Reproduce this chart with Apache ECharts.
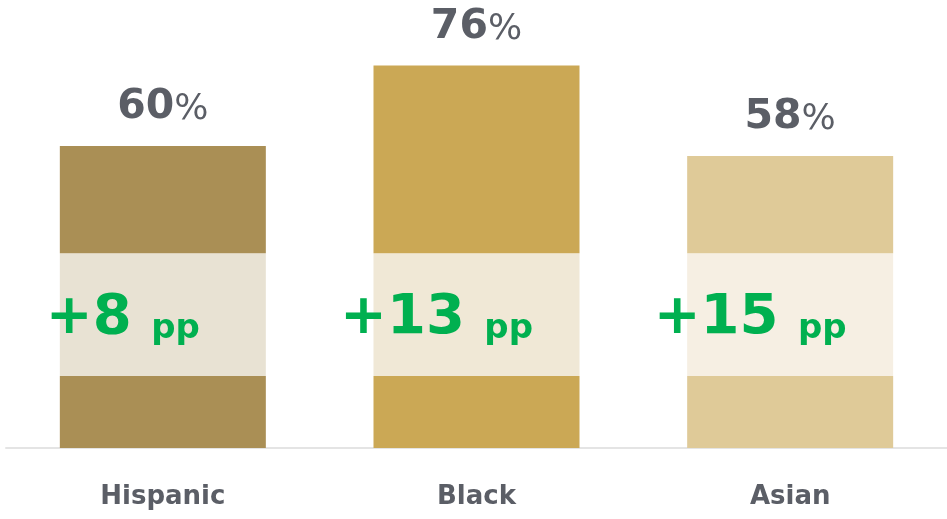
<!DOCTYPE html>
<html>
<head>
<meta charset="utf-8">
<title>Share by group</title>
<script src="https://cdn.jsdelivr.net/npm/echarts@6/dist/echarts.min.js"></script>
<style>
  html, body { margin: 0; padding: 0; background: #ffffff; }
  #chart { width: 947px; height: 519px; }
</style>
</head>
<body>
<div id="chart"></div>
<script>
// Groups and their headline shares (%)
const categories = ['Hispanic', 'Black', 'Asian'];
const shares = [60, 76, 58];
// Percentage-point gains shown inside each bar
const gains = [8, 13, 15];
// Highlighted band drawn across each bar (value range, %)
const bandFrom = [14.3, 14.3, 14.3];
const bandTo = [38.7, 38.7, 38.7];

// Palette
const barColors = ['#AA8F55', '#CBA855', '#DFCA98'];
const bandColors = ['#E8E2D3', '#F0E8D6', '#F6EFE3'];
const textGray = '#5B5E66';
const gainGreen = '#00B050';
const FONT = 'DejaVu Sans';

const lowerSeg = bandFrom.map((v, i) => ({ value: v, itemStyle: { color: barColors[i] } }));
const bandSeg = bandTo.map((v, i) => ({ value: v - bandFrom[i], itemStyle: { color: bandColors[i] } }));
const upperSeg = shares.map((v, i) => ({ value: v - bandTo[i], itemStyle: { color: barColors[i] } }));

const chart = echarts.init(document.getElementById('chart'), null, { renderer: 'canvas' });

chart.setOption({
  animation: false,
  backgroundColor: '#ffffff',
  grid: { left: 6, right: 0, top: 45.3, bottom: 71, containLabel: false },
  xAxis: {
    type: 'category',
    data: categories,
    axisTick: { show: false },
    axisLine: { show: true, lineStyle: { color: '#E4E4E4', width: 2 } },
    axisLabel: {
      margin: 36,
      color: textGray,
      fontFamily: FONT,
      fontWeight: 'bold',
      fontSize: 26
    }
  },
  yAxis: {
    type: 'value',
    min: 0,
    max: 80,
    show: false,
    splitLine: { show: false }
  },
  series: [
    {
      type: 'bar',
      stack: 'share',
      barWidth: 206,
      data: lowerSeg
    },
    {
      type: 'bar',
      stack: 'share',
      barWidth: 206,
      data: bandSeg,
      label: {
        show: true,
        position: 'inside',
        offset: [-40, 4],
        formatter: (p) => '{a|+' + gains[p.dataIndex] + ' }{b|pp}',
        rich: {
          a: { fontFamily: FONT, fontWeight: 'bold', fontSize: 56, lineHeight: 56, color: gainGreen, verticalAlign: 'bottom' },
          b: { fontFamily: FONT, fontWeight: 'bold', fontSize: 34, lineHeight: 40, color: gainGreen, verticalAlign: 'bottom' }
        }
      }
    },
    {
      type: 'bar',
      stack: 'share',
      barWidth: 206,
      data: upperSeg,
      label: {
        show: true,
        position: 'top',
        distance: 18,
        formatter: (p) => '{n|' + shares[p.dataIndex] + '}{p|%}',
        rich: {
          n: { fontFamily: FONT, fontWeight: 'bold', fontSize: 41, lineHeight: 41, color: textGray, verticalAlign: 'bottom' },
          p: { fontFamily: FONT, fontWeight: 'normal', fontSize: 36, lineHeight: 39, color: textGray, verticalAlign: 'bottom' }
        }
      }
    }
  ]
});
</script>
</body>
</html>
